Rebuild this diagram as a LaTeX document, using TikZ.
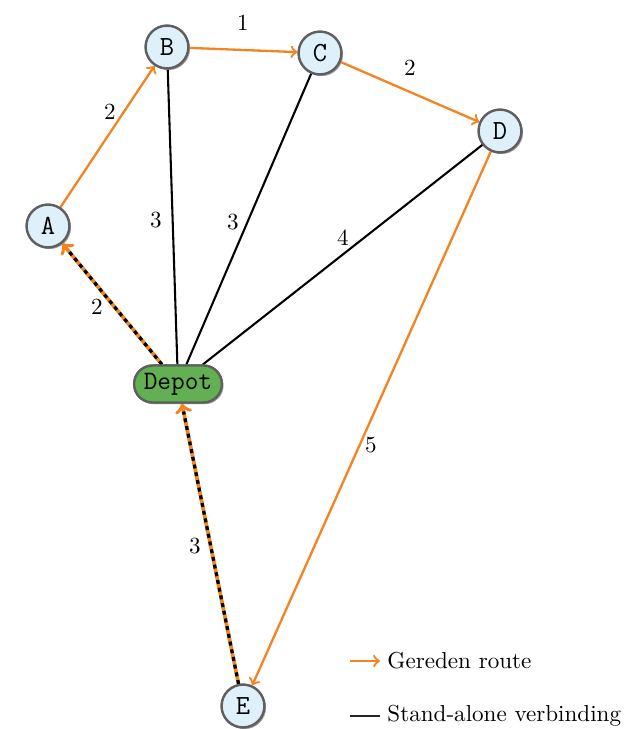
\documentclass[tikz,border=0pt]{standalone}
\usetikzlibrary{shadows}
\definecolor{routeorange}{RGB}{242,132,34}
\definecolor{nodefill}{RGB}{222,240,250}
\definecolor{nodeline}{RGB}{95,95,95}
\definecolor{depotgreen}{RGB}{98,176,82}
\tikzset{
  stop/.style={circle, draw=nodeline, line width=1pt, fill=nodefill,
    minimum size=18.5pt, inner sep=0pt, font=\large\ttfamily,
    drop shadow={shadow xshift=0.7pt, shadow yshift=-0.7pt, fill=black!45, opacity=0.6}},
  depot/.style={rounded corners=8pt, draw=nodeline, line width=1pt, fill=depotgreen,
    minimum width=38pt, minimum height=16pt, inner sep=1pt, font=\fontsize{11.5}{13}\selectfont\ttfamily,
    drop shadow={shadow xshift=0.7pt, shadow yshift=-0.7pt, fill=black!45, opacity=0.6}},
  route/.style={draw=routeorange, line width=1pt, -to},
  link/.style={draw=black, line width=0.9pt},
  returnroute/.style={draw=routeorange, line width=1.6pt, -to},
  returndash/.style={draw=black, line width=1.4pt, dash pattern=on 1.7pt off 1.7pt},
  weight/.style={font=\normalsize, inner sep=1pt},
}
\begin{document}
\begin{tikzpicture}[x=0.433pt, y=-0.433pt]
  \useasboundingbox (0,0) rectangle (624,729);

  % stops
  \node[stop] (B) at (167,47) {B};
  \node[stop] (C) at (320,53) {C};
  \node[stop] (D) at (500,131) {D};
  \node[stop] (A) at (48,226) {A};
  \node[stop] (E) at (243,706) {E};
  \node[depot] (depot) at (178,384) {Depot};

  % stand-alone links from the depot
  \path[link] (depot) -- (B);
  \path[link] (depot) -- (C);
  \path[link] (depot) -- (D);

  % driven route
  \path[route] (A) -- (B);
  \path[route] (B) -- (C);
  \path[route] (C) -- (D);
  \path[route] (D) -- (E);

  % route legs that coincide with a link
  \path[returnroute] (depot) -- (A);
  \path[returndash, shorten >=3.5pt] (depot) -- (A);
  \path[returnroute] (E) -- (depot);
  \path[returndash, shorten >=3.5pt] (E) -- (depot);

  % redraw nodes above the edges
  \node[stop] at (B) {B};
  \node[stop] at (C) {C};
  \node[stop] at (D) {D};
  \node[stop] at (A) {A};
  \node[stop] at (E) {E};
  \node[depot] at (depot) {Depot};

  % edge weights
  \node[weight] (wBC) at (243,23) {1};
  \node[weight] (wCD) at (410,68) {2};
  \node[weight] (wAB) at (110,112) {2};
  \node[weight] (wDB) at (156,220) {3};
  \node[weight] (wDC) at (233,222) {3};
  \node[weight] (wDD) at (343,238) {4};
  \node[weight] (wDA) at (97,307) {2};
  \node[weight] (wDE) at (371,445) {5};
  \node[weight] (wED) at (195,546) {3};

  % legend
  \coordinate (l1a) at (350,661);
  \coordinate (l1b) at (380,661);
  \coordinate (l2a) at (350,716);
  \coordinate (l2b) at (380,716);
  \path[route] (l1a) -- (l1b);
  \path[draw=black!85, line width=1.2pt] (l2a) -- (l2b);
  \node[anchor=west, inner sep=0pt] (legroute) at (387,661) {Gereden route};
  \node[anchor=west, inner sep=0pt] (leglink) at (387,716) {Stand-alone verbinding};
\end{tikzpicture}
\end{document}
